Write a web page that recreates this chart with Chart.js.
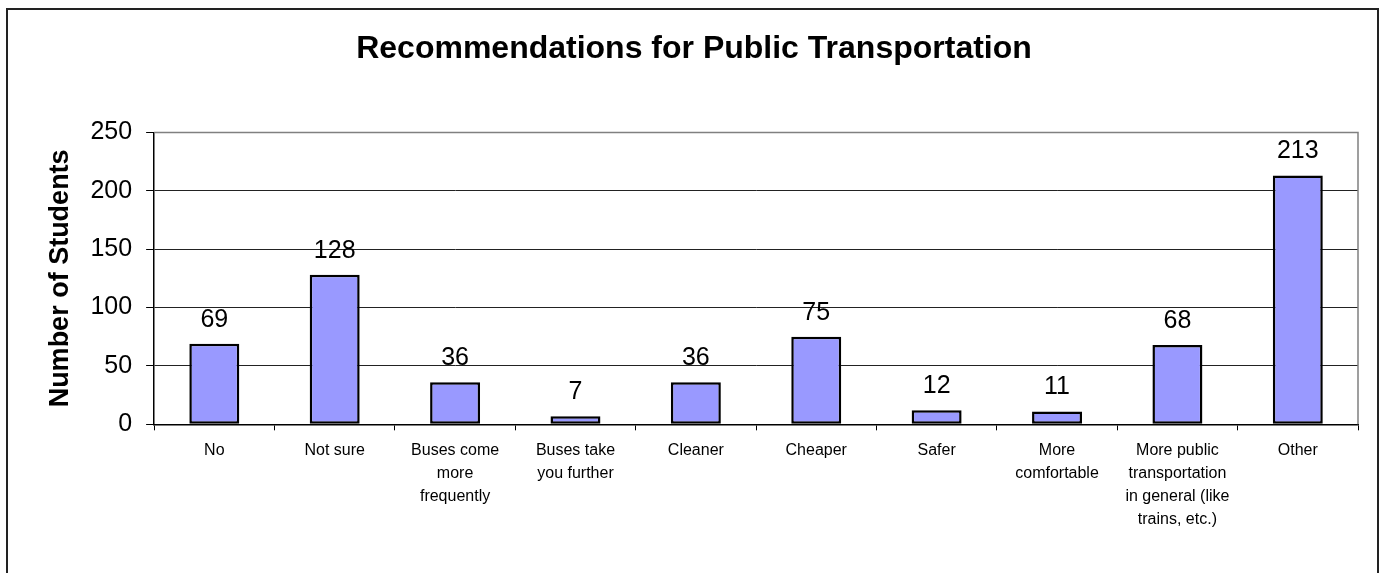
<!DOCTYPE html>
<html>
<head>
<meta charset="utf-8">
<title>Recommendations for Public Transportation</title>
<script src="https://cdn.jsdelivr.net/npm/chart.js"></script>
<style>
  html, body { margin: 0; padding: 0; background: #fff; overflow: hidden; }
  #frame {
    position: absolute; left: 6px; top: 8px;
    width: 1369px; height: 700px;
    border: 2px solid #222;
  }
  #wrap { position: absolute; left: 0; top: 0; width: 1382px; height: 573px; }
</style>
</head>
<body>
<div id="frame"></div>
<div id="wrap"><canvas id="recChart"></canvas></div>
<script>
// survey answers, one bar per answer
const categories = [
  'No',
  'Not sure',
  ['Buses come', 'more', 'frequently'],
  ['Buses take', 'you further'],
  'Cleaner',
  'Cheaper',
  'Safer',
  ['More', 'comfortable'],
  ['More public', 'transportation', 'in general (like', 'trains, etc.)'],
  'Other'
];
const students = [69, 128, 36, 7, 36, 75, 12, 11, 68, 213];
const yTicks = [0, 50, 100, 150, 200, 250];

Chart.defaults.font.family = '"Liberation Sans", Arial, sans-serif';
Chart.defaults.color = '#000';

// value printed above each bar
const barValues = {
  id: 'barValues',
  afterDatasetsDraw(chart) {
    const ctx = chart.ctx;
    const meta = chart.getDatasetMeta(0);
    ctx.save();
    ctx.font = '25px "Liberation Sans", Arial, sans-serif';
    ctx.fillStyle = '#000';
    ctx.textAlign = 'center';
    ctx.textBaseline = 'middle';
    meta.data.forEach((bar, i) => {
      ctx.fillText(String(students[i]), bar.x, bar.y - 24);
    });
    ctx.restore();
  }
};

// grey frame on the top and right of the plot area
const plotFrame = {
  id: 'plotFrame',
  beforeDatasetsDraw(chart) {
    const a = chart.chartArea;
    const ctx = chart.ctx;
    ctx.save();
    ctx.strokeStyle = '#808080';
    ctx.lineWidth = 1.5;
    ctx.beginPath();
    ctx.moveTo(a.left, a.top);
    ctx.lineTo(a.right, a.top);
    ctx.lineTo(a.right, a.bottom);
    ctx.stroke();
    ctx.restore();
  }
};

const ctx = document.getElementById('recChart').getContext('2d');
new Chart(ctx, {
  type: 'bar',
  data: {
    labels: categories,
    datasets: [{
      label: 'Number of Students',
      data: students,
      backgroundColor: '#9999FF',
      borderColor: '#000',
      borderWidth: 2.5,
      borderSkipped: false,
      barPercentage: 0.415,
      categoryPercentage: 1.0
    }]
  },
  options: {
    responsive: true,
    maintainAspectRatio: false,
    animation: false,
    layout: { padding: { left: 30, right: 24, top: 0, bottom: 33.5 } },
    plugins: {
      legend: { display: false },
      tooltip: { enabled: false },
      title: {
        display: true,
        text: 'Recommendations for Public Transportation',
        color: '#000',
        font: { size: 32, weight: 'bold' },
        padding: { top: 30, bottom: 64 }
      }
    },
    scales: {
      x: {
        grid: {
          offset: true,
          drawOnChartArea: false,
          drawTicks: true,
          tickLength: 6,
          color: '#000'
        },
        border: { color: '#000', width: 1.5 },
        ticks: {
          color: '#000',
          font: { size: 16, lineHeight: 1.44 },
          maxRotation: 0,
          autoSkip: false,
          padding: 8.5
        }
      },
      y: {
        min: 0,
        max: 250,
        afterBuildTicks(axis) {
          axis.ticks = yTicks.map(v => ({ value: v }));
        },
        grid: {
          color: c => (c.tick && c.tick.value === 250 ? '#808080' : '#222'),
          tickColor: '#000',
          tickLength: 8,
          lineWidth: 1
        },
        border: { color: '#000', width: 1.5 },
        ticks: {
          color: '#000',
          font: { size: 25 },
          padding: 14
        },
        title: {
          display: true,
          text: 'Number of Students',
          color: '#000',
          font: { size: 27, weight: 'bold' },
          padding: { top: 14, bottom: 0 }
        }
      }
    }
  },
  plugins: [barValues, plotFrame]
});
</script>
</body>
</html>
